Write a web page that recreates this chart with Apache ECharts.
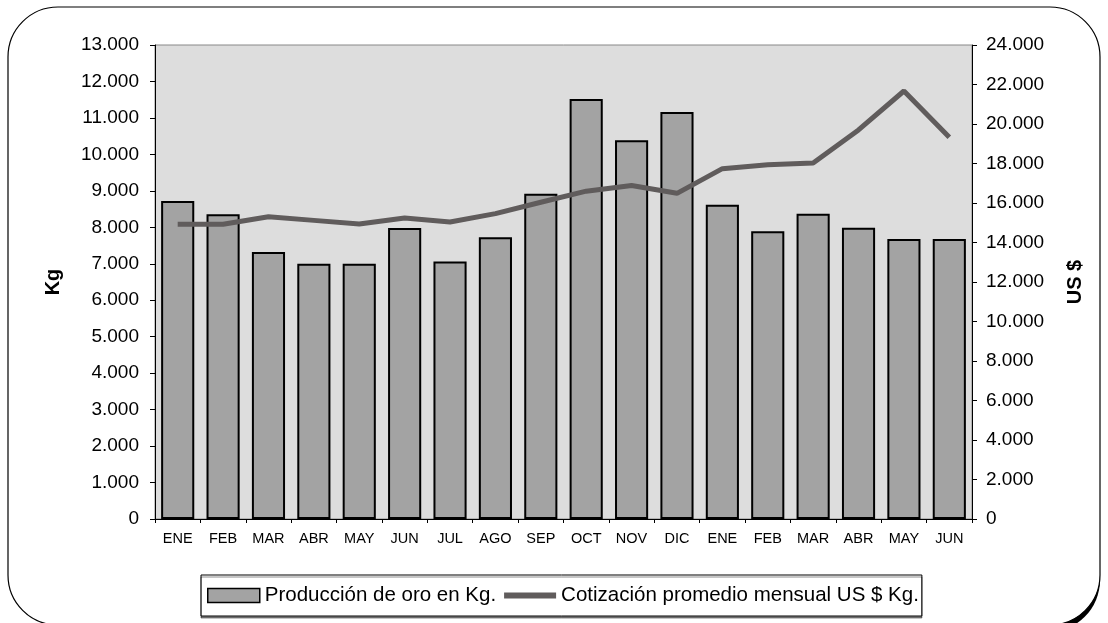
<!DOCTYPE html>
<html>
<head>
<meta charset="utf-8">
<script src="https://cdn.jsdelivr.net/npm/echarts@6/dist/echarts.min.js"></script>
<style>
body { margin:0; background:#fff; }
#main { width:1108px; height:623px; }
</style>
</head>
<body>
<div id="main"></div>
<script>
var meses = ['ENE','FEB','MAR','ABR','MAY','JUN','JUL','AGO','SEP','OCT','NOV','DIC','ENE','FEB','MAR','ABR','MAY','JUN'];
var produccion = [8720, 8360, 7320, 7000, 7000, 7980, 7060, 7730, 8920, 11520, 10390, 11160, 8620, 7890, 8370, 7990, 7680, 7680];
var cotizacion = [14920, 14920, 15300, 15120, 14940, 15240, 15040, 15460, 16040, 16600, 16890, 16490, 17740, 17940, 18030, 19700, 21670, 19330];

var fuente = 'Arial, "Liberation Sans", sans-serif';

// separador de miles con punto
function miles(v) {
    return String(v).replace(/\B(?=(\d{3})+(?!\d))/g, '.');
}

var option = {
    animation: false,
    textStyle: { fontFamily: fuente },
    graphic: [
        {
            type: 'rect', z: -11, silent: true,
            shape: { x: 30, y: 14, width: 1070, height: 618, r: 52 },
            style: { fill: '#000' }
        },
        {
            type: 'rect', z: -10, silent: true,
            shape: { x: 8, y: 7, width: 1092, height: 618, r: 50 },
            style: { fill: '#fff', stroke: '#000', lineWidth: 1.2 }
        }
    ],
    grid: {
        left: 155,
        right: 136,
        top: 45,
        bottom: 104,
        show: true,
        backgroundColor: '#DDDDDD',
        borderColor: '#888',
        borderWidth: 1
    },
    legend: {
        left: 201,
        top: 575,
        padding: [10, 3, 10, 6],
        itemGap: 8,
        itemWidth: 52,
        itemHeight: 14,
        borderColor: '#000',
        borderWidth: 1,
        shadowColor: 'rgba(0,0,0,0.45)',
        shadowOffsetY: 2,
        shadowOffsetX: 0,
        shadowBlur: 0,
        backgroundColor: '#fff',
        textStyle: { color: '#000', fontSize: 20.5, fontFamily: fuente },
        data: [
            { name: 'Producción de oro en Kg.', icon: 'rect', itemStyle: { borderWidth: 1.5 } },
            {
                name: 'Cotización promedio mensual US $ Kg.',
                icon: 'path://M0,0 L0.01,0 M0,4 L52,4 L52,10 L0,10 Z M52,14 L51.99,14',
                itemStyle: { color: '#605C5C', borderWidth: 0 }
            }
        ]
    },
    xAxis: [{
        type: 'category',
        data: meses,
        axisLine: { lineStyle: { color: '#000', width: 1 } },
        axisTick: { show: true, length: 4, lineStyle: { color: '#000' } },
        axisLabel: { color: '#000', fontSize: 14.5, margin: 12, interval: 0 },
        splitLine: { show: false }
    }],
    yAxis: [
        {
            type: 'value',
            min: 0, max: 13000, interval: 1000,
            name: 'Kg',
            nameLocation: 'middle',
            nameRotate: 90,
            nameGap: 92,
            nameTextStyle: { color: '#000', fontSize: 20, fontWeight: 'bold' },
            axisLine: { show: true, lineStyle: { color: '#000' } },
            axisTick: { show: true, length: 5, lineStyle: { color: '#000' } },
            axisLabel: { color: '#000', fontSize: 19, margin: 16, formatter: miles },
            splitLine: { show: false }
        },
        {
            type: 'value',
            min: 0, max: 24000, interval: 2000,
            name: 'US $',
            nameLocation: 'middle',
            nameRotate: 90,
            nameGap: 93,
            nameTextStyle: { color: '#000', fontSize: 20, fontWeight: 'bold' },
            axisLine: { show: true, lineStyle: { color: '#000' } },
            axisTick: { show: true, length: 5, lineStyle: { color: '#000' } },
            axisLabel: { color: '#000', fontSize: 19, margin: 14, formatter: miles },
            splitLine: { show: false }
        }
    ],
    series: [
        {
            name: 'Producción de oro en Kg.',
            type: 'bar',
            barCategoryGap: '27%',
            itemStyle: { color: '#A3A3A3', borderColor: '#000', borderWidth: 2 },
            data: produccion
        },
        {
            name: 'Cotización promedio mensual US $ Kg.',
            type: 'line',
            yAxisIndex: 1,
            symbol: 'none',
            lineStyle: { color: '#605C5C', width: 5 },
            itemStyle: { color: '#605C5C' },
            data: cotizacion
        }
    ]
};

var chart = echarts.init(document.getElementById('main'));
chart.setOption(option);
</script>
</body>
</html>
